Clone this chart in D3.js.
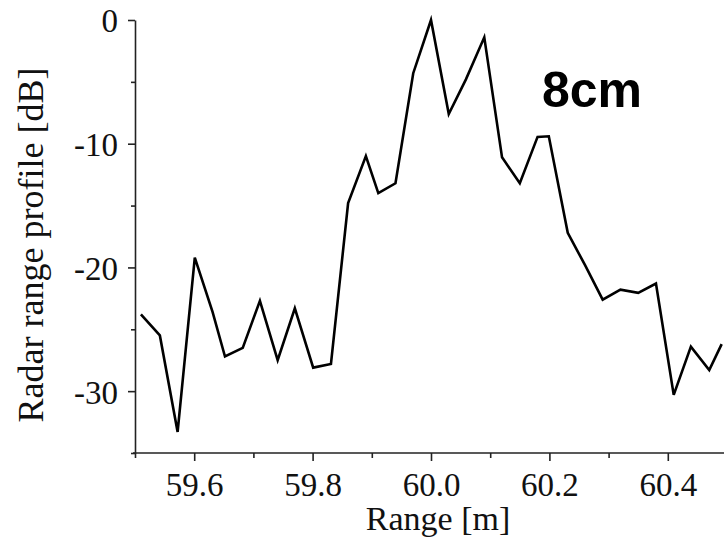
<!DOCTYPE html>
<html>
<head>
<meta charset="utf-8">
<script src="https://cdn.jsdelivr.net/npm/d3@7"></script>
<style>
  body { margin: 0; background: white; }
  svg { display: block; }
  .axis path, .axis line { stroke: #222; stroke-width: 1.6; }
  .axis text { font-family: "Liberation Serif", "Times New Roman", serif; font-size: 33px; fill: #111; }
</style>
</head>
<body>
<svg id="chart" width="724" height="539"></svg>
<script>
// range [m] and radar range profile [dB]
var rangeM = [59.510, 59.542, 59.572, 59.601, 59.631, 59.652, 59.682, 59.711, 59.741, 59.770,
  59.801, 59.831, 59.860, 59.890, 59.911, 59.940, 59.970, 60.000, 60.030, 60.059,
  60.090, 60.120, 60.150, 60.180, 60.199, 60.231, 60.260, 60.290, 60.320, 60.350,
  60.380, 60.410, 60.439, 60.470, 60.491];
var profileDb = [-23.8, -25.5, -33.3, -19.2, -23.6, -27.2, -26.5, -22.7, -27.5, -23.3,
  -28.1, -27.8, -14.8, -11.0, -14.0, -13.2, -4.3, 0.0, -7.6, -4.8,
  -1.4, -11.1, -13.2, -9.45, -9.4, -17.2, -19.8, -22.6, -21.8, -22.05,
  -21.3, -30.3, -26.4, -28.3, -26.2];

var xMajor = [59.6, 59.8, 60.0, 60.2, 60.4];
var xMinor = [59.5, 59.7, 59.9, 60.1, 60.3, 60.5];
var yMajor = [0, -10, -20, -30];
var yMinor = [-5, -15, -25, -35];

var svg = d3.select("#chart");

var x = d3.scaleLinear().domain([59.5, 60.5]).range([135, 727]);
var y = d3.scaleLinear().domain([-35, 0]).range([453, 20]);

// x axis
var gx = svg.append("g").attr("class", "axis").attr("transform", "translate(0,453)");
gx.call(d3.axisBottom(x).tickValues(xMajor).tickSize(8).tickPadding(10)
  .tickFormat(d3.format(".1f")).tickSizeOuter(0));
gx.select(".domain").attr("d", "M133,0H724");
gx.selectAll(".tick text").attr("dy", "0.71em").attr("y", 20);
svg.append("g").attr("class", "axis").attr("transform", "translate(0,453)")
  .call(d3.axisBottom(x).tickValues(xMinor).tickSize(5).tickFormat("").tickSizeOuter(0))
  .select(".domain").remove();

// y axis
var gy = svg.append("g").attr("class", "axis").attr("transform", "translate(135,0)");
gy.call(d3.axisLeft(y).tickValues(yMajor).tickSize(7).tickPadding(10).tickSizeOuter(0)
  .tickFormat(function (d) { return d === 0 ? "0" : "-" + Math.abs(d); }));
gy.selectAll(".tick text").attr("dy", "0.36em");
svg.append("g").attr("class", "axis").attr("transform", "translate(135,0)")
  .call(d3.axisLeft(y).tickValues(yMinor).tickSize(4).tickFormat("").tickSizeOuter(0))
  .select(".domain").remove();

// axis titles
svg.append("text")
  .attr("x", 438).attr("y", 530)
  .attr("text-anchor", "middle")
  .style("font-family", "'Liberation Serif', 'Times New Roman', serif")
  .style("font-size", "34px").style("fill", "#111")
  .text("Range [m]");

svg.append("text")
  .attr("transform", "translate(43,245) rotate(-90)")
  .attr("text-anchor", "middle")
  .style("font-family", "'Liberation Serif', 'Times New Roman', serif")
  .style("font-size", "36px").style("fill", "#111")
  .text("Radar range profile [dB]");

// profile line
var line = d3.line()
  .x(function (d, i) { return x(rangeM[i]); })
  .y(function (d) { return y(d); });

svg.append("path")
  .datum(profileDb)
  .attr("d", line)
  .attr("fill", "none")
  .attr("stroke", "#000")
  .attr("stroke-width", 2.6)
  .attr("stroke-linejoin", "miter");

svg.append("text")
  .attr("x", 542).attr("y", 107)
  .style("font-family", "'Liberation Sans', Arial, sans-serif")
  .style("font-weight", "bold")
  .style("font-size", "50px").style("fill", "#000")
  .text("8cm");
</script>
</body>
</html>
